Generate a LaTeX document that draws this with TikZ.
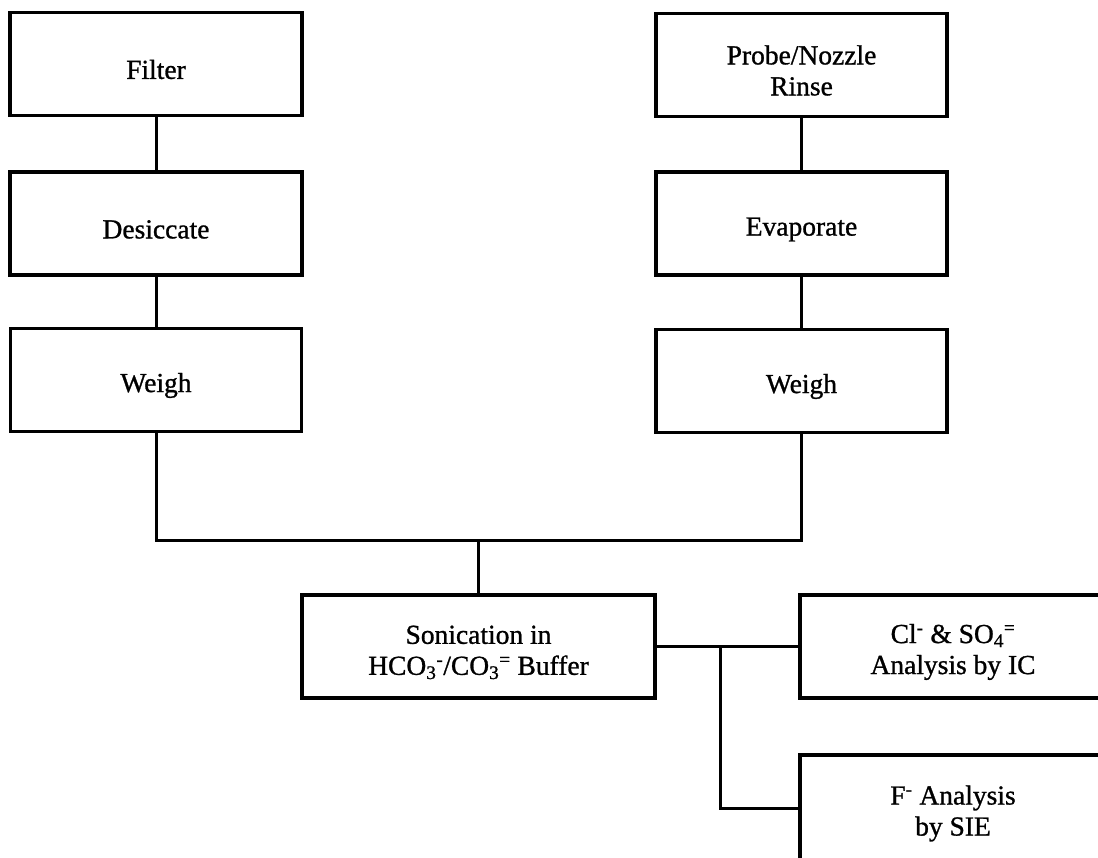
\documentclass[tikz,border=0pt]{standalone}
\usepackage{fontspec}
\setmainfont[FakeBold=1]{Liberation Serif}
\newcommand\boxstrut{\rule{0pt}{30pt}}
\begin{document}
\begin{tikzpicture}[x=1pt,y=-1pt,
  stepbox/.style={draw=black,line width=3.5pt,rectangle,inner sep=0pt,
    minimum width=#1,minimum height=103pt,align=center,
    font=\fontsize{27.5}{31}\selectfont},
  stepbox/.default=292pt,
  link/.style={draw=black,line width=3pt,line cap=rect}]
\useasboundingbox (0,0) rectangle (1098,857);
\clip (0,0) rectangle (1098,857);
\fill[white] (0,0) rectangle (1098,857);

% sampling train: filter side and probe rinse side
\node[stepbox=292pt] (filter) at (156,64)    {\boxstrut Filter};
\node[stepbox=292pt] (desic)  at (156,223.5) {\boxstrut Desiccate};
\node[stepbox=291pt] (weighL) at (156,380)   {\boxstrut Weigh};

\node[stepbox=291pt] (probe)  at (801.5,65)  {\boxstrut Probe/Nozzle\\Rinse};
\node[stepbox=291pt] (evap)   at (801.5,223.5) {\boxstrut Evaporate};
\node[stepbox=291pt] (weighR) at (801.5,381) {\boxstrut Weigh};

% extraction and analyses
\node[stepbox=353pt] (sonic) at (478.5,646.5)
  {\boxstrut Sonication in\\HCO\textsubscript{3}\textsuperscript{-}/CO\textsubscript{3}\textsuperscript{=} Buffer};
\node[stepbox=306pt] (cl) at (953,646.5)
  {\boxstrut Cl\textsuperscript{-} \& SO\textsubscript{4}\textsuperscript{=}\\Analysis by IC};
\node[stepbox=306pt,minimum height=106pt] (fan) at (953,808)
  {\boxstrut F\textsuperscript{-} Analysis\\by SIE};

% connectors
\draw[link] (filter.south) -- (desic.north);
\draw[link] (desic.south) -- (weighL.north);
\draw[link] (probe.south) -- (evap.north);
\draw[link] (evap.south) -- (weighR.north);

\coordinate (join) at (478.5,540);
\draw[link] (weighL.south) |- (join) -| (weighR.south);
\draw[link] (join) -- (sonic.north);

\draw[link] (sonic.east) -- (cl.west);
\coordinate (split) at (720,646.5);
\draw[link] (split) |- (fan.west);
\end{tikzpicture}
\end{document}
